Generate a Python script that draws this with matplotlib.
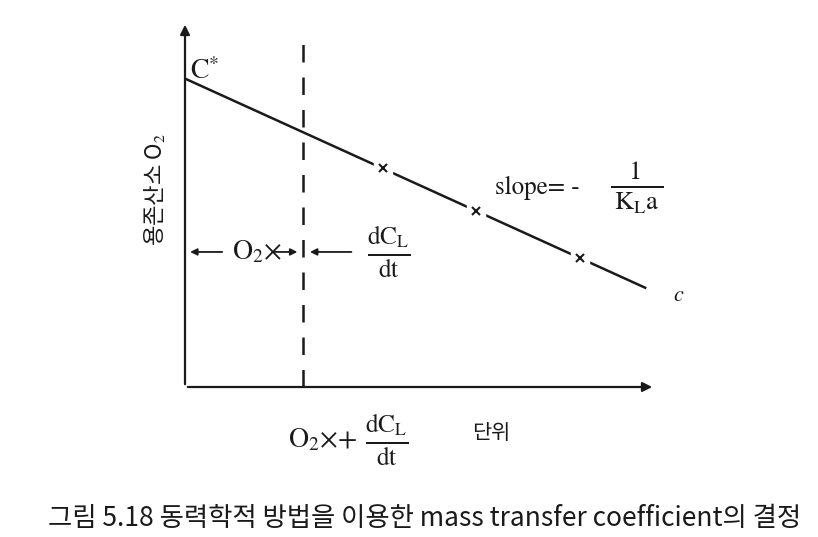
import matplotlib
matplotlib.use("Agg")
import matplotlib.pyplot as plt

plt.rcParams['font.family'] = ['Noto Sans CJK KR', 'DejaVu Sans']
plt.rcParams['mathtext.fontset'] = 'stix'

# time (arbitrary units) and dissolved O2 along the straight line
line_t = [0.0, 9.79]
line_c = [8.45, 2.72]
# sampled points marked with x
point_t = [4.21, 6.19, 8.40]
point_c = [6.00, 4.82, 3.53]
# vertical dashed line position
dash_t = 2.51
dash_top = 9.6

serif = 'STIXGeneral'
ink = '#1a1a1a'

fig = plt.figure(figsize=(8.18, 5.37), dpi=100)
ax = fig.add_axes([185 / 818, (537 - 387) / 537, (655 - 185) / 818, (387 - 22) / 537])
ax.set_xlim(0, 10)
ax.set_ylim(0, 10)
ax.axis('off')

# axes with arrowheads
ax.annotate('', xy=(0, 10), xytext=(0, 0),
            arrowprops=dict(arrowstyle='-|>', color=ink, lw=1.6, mutation_scale=14))
ax.annotate('', xy=(10, 0), xytext=(0, 0),
            arrowprops=dict(arrowstyle='-|>', color=ink, lw=1.6, mutation_scale=14))

ax.plot(line_t, line_c, color=ink, lw=1.8, zorder=2)
ax.plot(point_t, point_c, 's', color='white', ms=13, zorder=3)
ax.plot(point_t, point_c, 'x', color=ink, ms=6, mew=1.5, zorder=4)

ax.plot([dash_t, dash_t], [0, dash_top], color=ink, lw=1.8,
        dashes=(7, 6), zorder=1)

ax.text(0.1, 8.45, r'C$^{*}$', family=serif, fontsize=20, color=ink)
ax.text(6.6, 5.45, 'slope= -', family=serif, fontsize=18, color=ink,
        va='center')
ax.text(9.6, 5.45, r'$\frac{\ \ \ 1\ \ \ }{\mathrm{K_{L}a}}$', fontsize=27,
        color=ink, va='center', ha='center')
ax.text(10.4, 2.35, 'c', family=serif, style='italic', fontsize=16, color=ink)

# bracket arrows at the middle height
y_mid = 3.7
ax.annotate('', xy=(0.05, y_mid), xytext=(0.85, y_mid),
            arrowprops=dict(arrowstyle='-|>', color=ink, lw=1.3, mutation_scale=10))
ax.text(1.0, y_mid, r'O$_2$×', family=serif, fontsize=20, color=ink, va='center')
ax.annotate('', xy=(2.45, y_mid), xytext=(1.8, y_mid),
            arrowprops=dict(arrowstyle='-|>', color=ink, lw=1.3, mutation_scale=10))
ax.annotate('', xy=(2.6, y_mid), xytext=(3.6, y_mid),
            arrowprops=dict(arrowstyle='-|>', color=ink, lw=1.3, mutation_scale=10))
ax.text(4.35, y_mid, r'$\frac{\mathrm{dC_{L}}}{\mathrm{dt}}$', fontsize=26,
        color=ink, va='center', ha='center')

ax.text(-0.65, 5.4, r'용존산소 O$_2$', fontsize=16, color=ink, rotation=90,
        va='center', ha='center')

ax.text(2.2, -1.45, r'O$_2$×+', family=serif, fontsize=20, color=ink, va='center')
ax.text(4.3, -1.45, r'$\frac{\mathrm{dC_{L}}}{\mathrm{dt}}$', fontsize=26,
        color=ink, va='center', ha='center')
ax.text(6.1, -1.25, '단위', fontsize=15, color=ink, va='center')

fig.text(425 / 818, 1 - 519 / 537,
         '그림 5.18 동력학적 방법을 이용한 mass transfer coefficient의 결정',
         fontsize=19, color=ink, ha='center', va='center')

fig.savefig('out.png', dpi=100, facecolor='white')
